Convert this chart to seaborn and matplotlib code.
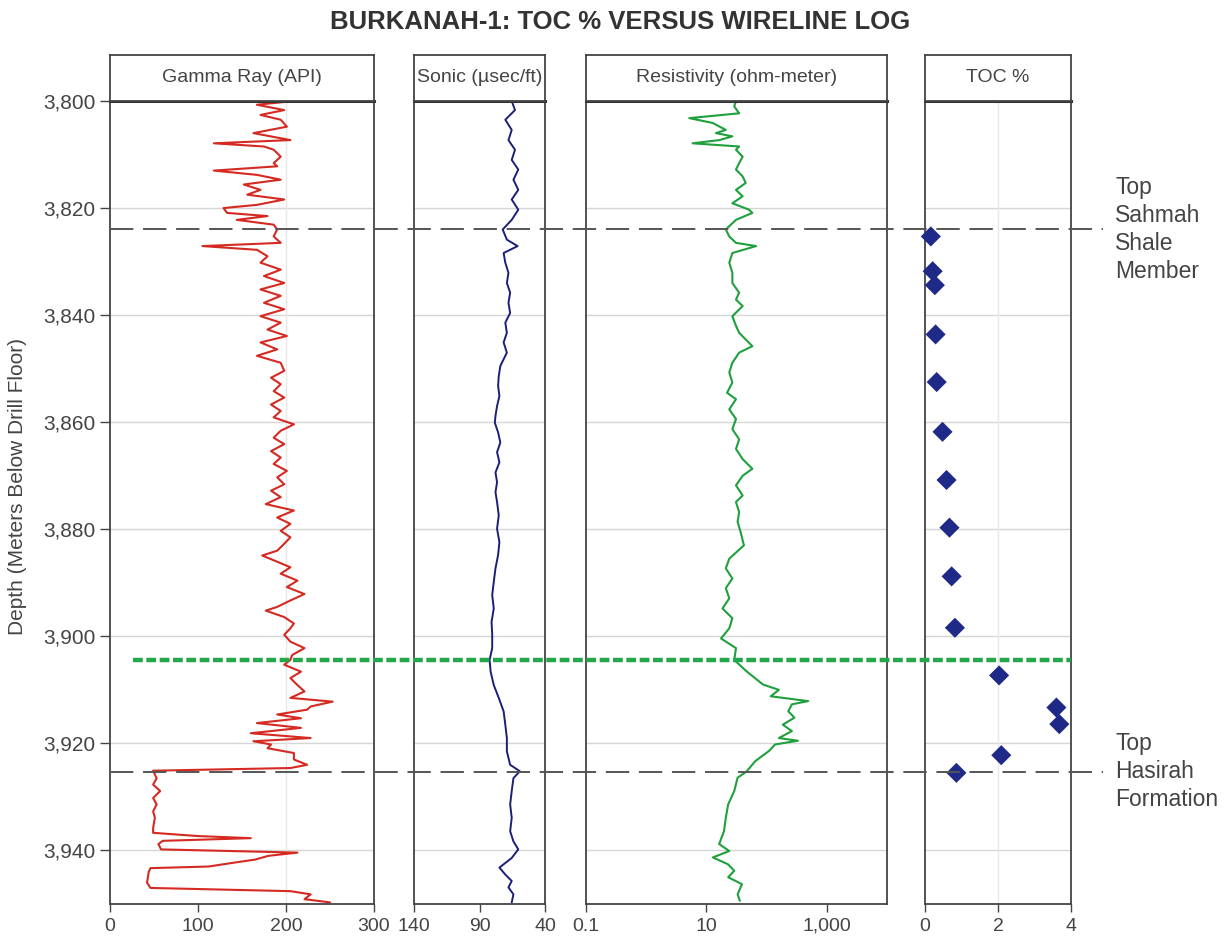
import pandas as pd
import seaborn as sns
import matplotlib.pyplot as plt
from matplotlib.ticker import FuncFormatter, FixedLocator, NullLocator

sns.set_theme(style='white')
plt.rcParams['font.family'] = ['Liberation Sans', 'DejaVu Sans']

gr_depth = [3800.0, 3800.7, 3801.7, 3802.6, 3803.5, 3804.8, 3806.0, 3807.3, 3807.9, 3808.5,
            3809.1, 3810.4, 3811.6, 3812.2, 3813.0, 3813.8, 3814.7, 3815.6, 3816.6, 3817.5,
            3818.4, 3819.4, 3820.0, 3820.9, 3821.5, 3822.2, 3823.1, 3824.0, 3825.3, 3826.5,
            3827.1, 3827.8, 3829.0, 3830.2, 3831.5, 3832.7, 3834.0, 3835.2, 3836.4, 3837.7,
            3838.9, 3840.2, 3841.4, 3842.7, 3843.9, 3845.1, 3846.4, 3847.6, 3848.9, 3850.4,
            3851.7, 3852.9, 3854.2, 3855.4, 3856.7, 3857.9, 3859.1, 3860.4, 3861.6, 3862.9,
            3864.1, 3865.4, 3866.6, 3867.8, 3869.1, 3870.3, 3871.6, 3872.8, 3874.0, 3875.3,
            3876.5, 3877.8, 3879.0, 3880.3, 3881.5, 3882.7, 3884.0, 3884.9, 3885.8, 3887.1,
            3888.3, 3889.6, 3890.8, 3892.1, 3893.3, 3894.5, 3895.2, 3896.4, 3897.6, 3898.5,
            3899.7, 3901.0, 3902.2, 3903.5, 3904.4, 3905.3, 3906.6, 3907.8, 3909.1, 3910.3,
            3911.5, 3912.2, 3913.1, 3913.7, 3914.6, 3915.3, 3916.2, 3917.1, 3918.1, 3919.0,
            3919.6, 3920.2, 3920.9, 3921.8, 3923.0, 3924.0, 3924.6, 3925.1, 3926.5, 3927.7,
            3928.9, 3930.2, 3931.4, 3932.7, 3933.9, 3935.8, 3936.7, 3937.3, 3937.7, 3938.2,
            3938.8, 3939.8, 3940.4, 3941.0, 3941.7, 3942.3, 3943.0, 3943.3, 3944.0, 3945.1,
            3946.0, 3947.0, 3947.6, 3948.2, 3949.1, 3949.7]
gr_api = [209, 167, 198, 171, 194, 201, 163, 205, 118, 175,
          186, 194, 186, 190, 118, 167, 194, 152, 171, 156,
          198, 167, 129, 133, 179, 144, 186, 190, 186, 194,
          105, 167, 179, 171, 194, 175, 198, 171, 194, 175,
          198, 171, 194, 179, 201, 171, 190, 167, 194, 198,
          183, 194, 186, 198, 183, 194, 186, 209, 194, 186,
          198, 183, 194, 186, 201, 190, 198, 183, 194, 177,
          209, 190, 205, 194, 205, 198, 190, 173, 186, 205,
          194, 213, 201, 221, 205, 190, 177, 198, 209, 205,
          198, 205, 221, 207, 205, 198, 217, 205, 213, 221,
          205, 253, 228, 224, 190, 217, 167, 217, 160, 228,
          163, 183, 179, 209, 209, 224, 205, 49, 53, 49,
          57, 49, 53, 49, 51, 49, 49, 99, 160, 60,
          55, 58, 213, 180, 165, 140, 112, 46, 44, 43,
          42, 46, 205, 228, 221, 250]

sonic_depth = [3800.0, 3801.7, 3803.5, 3805.4, 3807.3, 3809.1, 3811.0, 3812.8, 3814.7, 3816.6,
               3818.4, 3820.3, 3822.2, 3824.0, 3825.9, 3827.1, 3828.4, 3830.2, 3832.1, 3834.0,
               3835.8, 3837.7, 3839.6, 3841.4, 3843.3, 3845.1, 3847.0, 3849.5, 3851.4, 3853.2,
               3855.1, 3857.0, 3858.8, 3860.1, 3861.9, 3863.8, 3865.6, 3867.5, 3869.4, 3871.2,
               3873.1, 3874.9, 3877.4, 3879.9, 3882.4, 3884.8, 3887.3, 3889.8, 3892.3, 3894.8,
               3897.3, 3899.7, 3902.2, 3904.4, 3906.6, 3909.1, 3911.5, 3914.0, 3916.5, 3919.0,
               3921.5, 3924.0, 3925.2, 3926.5, 3928.9, 3931.4, 3933.9, 3936.4, 3938.3, 3939.8,
               3941.4, 3943.2, 3944.5, 3945.7, 3946.9, 3948.2, 3949.7]
sonic_us = [65.4, 62.9, 70.3, 65.4, 67.9, 62.9, 65.4, 60.4, 64.1, 60.4,
            65.4, 60.4, 65.4, 72.3, 69.1, 60.9, 71.6, 70.3, 67.9, 69.1,
            66.6, 67.9, 66.6, 70.3, 69.1, 71.6, 69.1, 74.1, 75.3, 75.8,
            74.8, 76.6, 77.8, 78.3, 75.8, 74.1, 76.6, 74.8, 77.8, 76.6,
            77.8, 76.6, 75.3, 76.6, 74.8, 75.8, 77.8, 79.1, 80.3, 79.1,
            80.8, 80.3, 80.3, 82.3, 81.5, 79.1, 75.3, 71.6, 70.3, 69.1,
            69.1, 66.6, 59.2, 64.1, 65.4, 66.6, 65.4, 66.6, 64.1, 60.4,
            65.4, 74.8, 70.3, 65.4, 67.9, 64.1, 65.4]

res_depth = [3800.0, 3801.0, 3802.3, 3803.2, 3804.1, 3805.4, 3806.0, 3806.6, 3807.3, 3807.9,
             3808.5, 3809.1, 3810.4, 3811.6, 3812.8, 3814.1, 3815.3, 3816.6, 3817.8, 3819.1,
             3820.3, 3820.9, 3822.2, 3824.0, 3825.3, 3826.5, 3827.1, 3828.4, 3830.2, 3832.1,
             3834.0, 3835.8, 3837.1, 3838.3, 3840.2, 3842.0, 3843.3, 3845.8, 3847.0, 3848.9,
             3850.7, 3852.6, 3854.5, 3855.7, 3857.6, 3859.4, 3861.3, 3863.2, 3865.0, 3866.9,
             3868.7, 3870.0, 3871.8, 3873.7, 3874.9, 3876.8, 3878.6, 3880.5, 3883.0, 3885.5,
             3887.3, 3889.2, 3891.0, 3892.9, 3894.8, 3896.6, 3898.5, 3900.4, 3902.2, 3904.4,
             3906.5, 3909.0, 3910.0, 3911.2, 3912.1, 3912.7, 3914.0, 3915.2, 3916.5, 3917.7,
             3919.0, 3919.5, 3920.2, 3921.4, 3923.3, 3925.3, 3926.4, 3928.9, 3931.4, 3933.9,
             3936.4, 3938.8, 3940.1, 3941.3, 3942.6, 3943.8, 3945.0, 3946.3, 3948.2, 3949.4]
res_ohm = [31, 29, 35, 5.2, 12.7, 21, 14.4, 27, 16.5, 5.9,
           35, 31, 40, 35, 31, 40, 45, 31, 40, 27,
           51, 58, 31, 21, 24, 31, 67, 27, 24, 27,
           27, 35, 31, 40, 27, 31, 35, 58, 35, 27,
           24, 27, 22, 31, 24, 31, 27, 35, 31, 40,
           58, 40, 31, 40, 31, 35, 33, 37, 42, 24,
           21, 27, 21, 24, 18.5, 27, 24, 17.5, 31, 29,
           46, 87, 160, 117, 490, 263, 229, 290, 186, 263,
           160, 331, 138, 110, 65, 46, 33, 29, 23, 21,
           19.6, 16.3, 24, 12.8, 23, 29, 23, 39, 33, 36]

toc_depth = [3825.3, 3831.8, 3834.4, 3843.6, 3852.5, 3861.8, 3870.8, 3879.7, 3888.8, 3898.4,
             3907.3, 3913.3, 3916.4, 3922.2, 3925.5]
toc_pct = [0.16, 0.21, 0.27, 0.29, 0.32, 0.48, 0.59, 0.67, 0.73, 0.82,
           2.03, 3.60, 3.68, 2.09, 0.86]

top_names = ['Top\nSahmah\nShale\nMember', 'Top\nHasirah\nFormation']
top_depths = [3824.0, 3925.3]
green_depth = 3904.4

depth_ticks = [3800, 3820, 3840, 3860, 3880, 3900, 3920, 3940]

# ---- layout ----
W, H = 1228, 944
fig = plt.figure(figsize=(W / 100, H / 100), dpi=100)
frame = '#444444'
txt = '#444444'

panels = [  # left px, right px, header, xlim, xticks, labels
    (110, 374, 'Gamma Ray (API)', (0, 300), [0, 100, 200, 300], ['0', '100', '200', '300']),
    (414, 545, 'Sonic (\u00b5sec/ft)', (140, 40), [140, 90, 40], ['140', '90', '40']),
    (586, 887, 'Resistivity (ohm-meter)', (0.1, 10000), [0.1, 10, 1000], ['0.1', '10', '1,000']),
    (925, 1071, 'TOC %', (0, 4), [0, 2, 4], ['0', '2', '4']),
]
top_px, bot_px, head_px = 101, 904, 55
y0 = 1 - bot_px / H
h = (bot_px - top_px) / H

axes = []
for i, (l, r, head, xl, xt, xtl) in enumerate(panels):
    ax = fig.add_axes([l / W, y0, (r - l) / W, h])
    hx = fig.add_axes([l / W, 1 - top_px / H, (r - l) / W, (top_px - head_px) / H])
    hx.set_xticks([]); hx.set_yticks([])
    for s in hx.spines.values():
        s.set_color(frame); s.set_linewidth(1.3)
    hx.text(0.5, 0.5, head, ha='center', va='center', fontsize=14, color=txt,
            transform=hx.transAxes)
    if i == 2:
        ax.set_xscale('log')
        ax.xaxis.set_minor_locator(NullLocator())
    ax.set_xlim(*xl)
    ax.set_ylim(3950, 3800)
    ax.xaxis.set_major_locator(FixedLocator(xt))
    ax.set_xticklabels(xtl)
    for d in depth_ticks[1:]:
        ax.axhline(d, color='#d6d6d6', lw=1, zorder=0)
    for s in ax.spines.values():
        s.set_color(frame); s.set_linewidth(1.3)
    ax.spines['top'].set_linewidth(2.2)
    ax.spines['top'].set_color('#333333')
    ax.tick_params(axis='x', direction='out', length=6, width=1, colors=frame,
                   labelsize=14, labelcolor=txt, pad=4, bottom=True)
    if i == 0:
        ax.yaxis.set_major_locator(FixedLocator(depth_ticks))
        ax.yaxis.set_major_formatter(FuncFormatter(lambda v, p: f'{v:,.0f}'))
        ax.tick_params(axis='y', direction='out', length=7, width=1, colors=frame,
                       labelsize=15, labelcolor=txt, left=True)
    else:
        ax.set_yticks([])
    axes.append(ax)

ax_gr, ax_son, ax_res, ax_toc = axes
ax_gr.axvline(200, color='#e8e8e8', lw=1, zorder=0)
ax_toc.axvline(2, color='#e8e8e8', lw=1, zorder=0)

sns.lineplot(x=gr_api, y=gr_depth, orient='y', sort=False, estimator=None,
             color='#d42a22', lw=1.5, ax=ax_gr)
sns.lineplot(x=sonic_us, y=sonic_depth, orient='y', sort=False, estimator=None,
             color='#1c1f78', lw=1.4, ax=ax_son)
sns.lineplot(x=res_ohm, y=res_depth, orient='y', sort=False, estimator=None,
             color='#1fa03c', lw=1.5, ax=ax_res)
toc = pd.DataFrame({'toc': toc_pct, 'depth': toc_depth})
sns.scatterplot(data=toc, x='toc', y='depth', marker='D', s=105, color='#1f2a88',
                edgecolor='none', ax=ax_toc, zorder=5, clip_on=False)
for ax in axes:
    ax.set_xlabel(''); ax.set_ylabel('')
    ax.set_ylim(3950, 3800)

# overlay for formation tops crossing all tracks
ov = fig.add_axes([0, y0, 1, h], zorder=10)
ov.set_xlim(0, W)
ov.set_ylim(3950, 3800)
ov.axis('off')
ov.patch.set_alpha(0)
ov.hlines(top_depths, 110, 1103, colors='#555555', lw=1.4, linestyles=(0, (12, 5)))
ov.hlines([green_depth], 133, 1071, colors='#22a84a', lw=3.2, linestyles=(0, (2.2, 0.8)))
for name, d in zip(top_names, top_depths):
    ov.text(1115, d, name, ha='left', va='center', fontsize=16.5, color=txt,
            linespacing=1.27)

fig.text(18 / W, 0.485, 'Depth (Meters Below Drill Floor)', rotation=90, ha='center',
         va='center', fontsize=15, color=txt)
fig.text(620 / W, 1 - 22 / H, 'BURKANAH-1: TOC % VERSUS WIRELINE LOG', ha='center',
         va='center', fontsize=18.5, fontweight='bold', color='#333333')

fig.savefig('out.png', dpi=100)
